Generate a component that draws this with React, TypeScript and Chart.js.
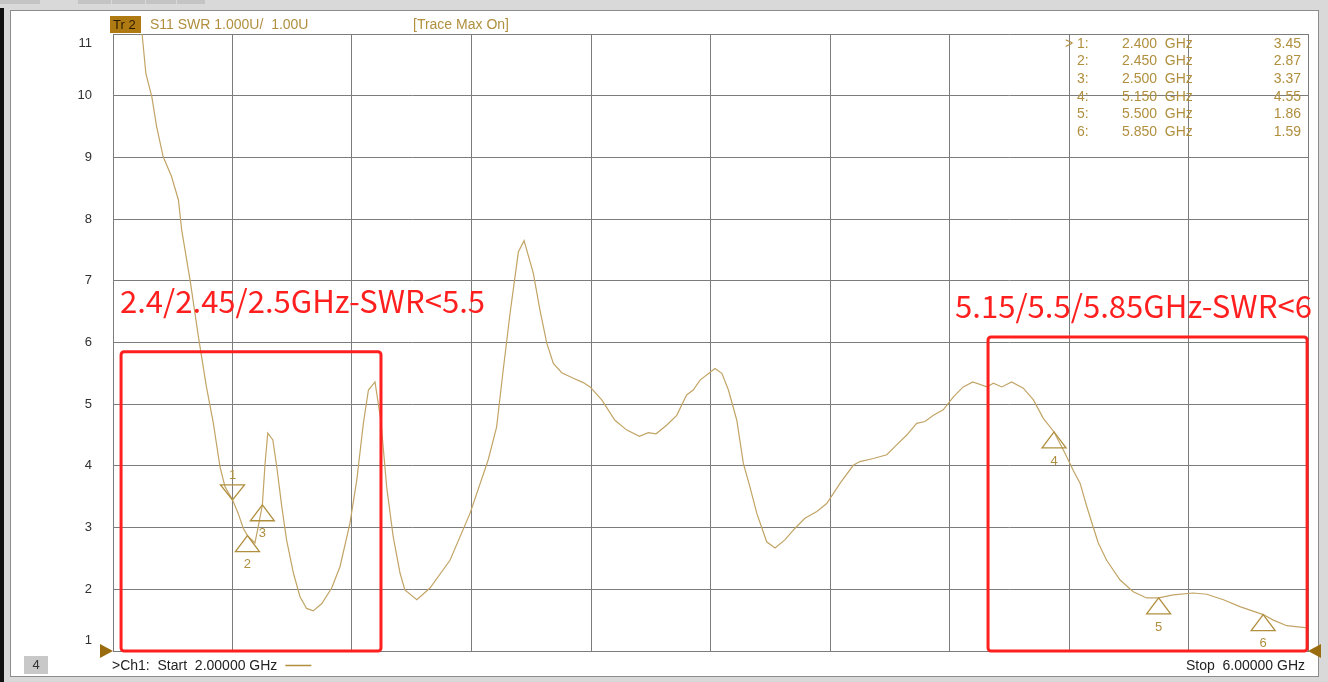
import React, { useEffect, useRef } from "react";
import { Chart, registerables } from "chart.js";

Chart.register(...registerables);

const W = 1328;
const H = 682;

// Trace data (frequency in GHz, S11 SWR)
const freqGHz = [
  2.0, 2.05, 2.08, 2.096, 2.11, 2.13, 2.146, 2.168, 2.196, 2.219, 2.23, 2.258, 2.286, 2.312, 2.336, 2.358,
  2.375, 2.4, 2.419, 2.436, 2.45, 2.475, 2.486, 2.5, 2.509, 2.518, 2.535, 2.548, 2.565, 2.581, 2.604, 2.626,
  2.648, 2.67, 2.699, 2.732, 2.76, 2.793, 2.816, 2.838, 2.855, 2.877, 2.897, 2.916, 2.938, 2.961, 2.977,
  3.017, 3.061, 3.128, 3.195, 3.256, 3.284, 3.306, 3.329, 3.357, 3.376, 3.407, 3.429, 3.452, 3.474, 3.502,
  3.541, 3.574, 3.597, 3.636, 3.68, 3.72, 3.762, 3.792, 3.818, 3.853, 3.887, 3.92, 3.942, 3.965, 4.015,
  4.038, 4.06, 4.088, 4.11, 4.132, 4.155, 4.188, 4.216, 4.249, 4.283, 4.316, 4.356, 4.389, 4.434, 4.478,
  4.5, 4.545, 4.59, 4.623, 4.657, 4.69, 4.718, 4.746, 4.779, 4.813, 4.846, 4.878, 4.925, 4.947, 4.975,
  5.008, 5.047, 5.081, 5.114, 5.15, 5.187, 5.214, 5.237, 5.259, 5.281, 5.298, 5.326, 5.371, 5.415, 5.46,
  5.5, 5.549, 5.616, 5.661, 5.717, 5.772, 5.85, 5.884, 5.929, 5.99, 6.0,
];
const swr = [
  15.0, 12.8, 11.7, 11.07, 10.36, 9.98, 9.5, 9.01, 8.69, 8.31, 7.82, 7.01, 6.09, 5.3, 4.69, 3.99,
  3.66, 3.45, 3.23, 2.99, 2.87, 2.75, 3.01, 3.37, 4.04, 4.53, 4.42, 3.99, 3.34, 2.8, 2.26, 1.88,
  1.69, 1.65, 1.77, 2.02, 2.37, 3.07, 3.77, 4.69, 5.23, 5.36, 4.72, 3.66, 2.85, 2.26, 1.99,
  1.83, 2.02, 2.47, 3.23, 4.1, 4.63, 5.55, 6.47, 7.47, 7.65, 7.12, 6.53, 5.99, 5.66, 5.51,
  5.42, 5.35, 5.28, 5.07, 4.74, 4.58, 4.48, 4.54, 4.52, 4.66, 4.82, 5.15, 5.23, 5.39, 5.58,
  5.5, 5.23, 4.74, 4.04, 3.66, 3.23, 2.77, 2.67, 2.8, 2.99, 3.15, 3.26, 3.39, 3.72, 4.01,
  4.07, 4.12, 4.18, 4.34, 4.5, 4.69, 4.72, 4.82, 4.91, 5.12, 5.28, 5.36, 5.28, 5.34, 5.28,
  5.36, 5.26, 5.07, 4.77, 4.55, 4.2, 3.93, 3.72, 3.35, 3.01, 2.75, 2.47, 2.15, 1.96, 1.86,
  1.86, 1.91, 1.94, 1.92, 1.83, 1.72, 1.59, 1.5, 1.41, 1.38, 1.38,
];

// Markers
const markerIds = ["1", "2", "3", "4", "5", "6"];
const markerFreqs = [2.4, 2.45, 2.5, 5.15, 5.5, 5.85];
const markerFreqLabels = ["2.400", "2.450", "2.500", "5.150", "5.500", "5.850"];
const markerValues = [3.45, 2.87, 3.37, 4.55, 1.86, 1.59];
const activeMarker = 0;

// Y tick labels
const yTickValues = [1, 2, 3, 4, 5, 6, 7, 8, 9, 10, 11];

// Red annotation bands
const bandLabels = ["2.4/2.45/2.5GHz-SWR<5.5", "5.15/5.5/5.85GHz-SWR<6"];
const bandFreqStart = [2.027, 4.929];
const bandFreqEnd = [2.897, 5.997];
const bandTopSwr = [5.85, 6.09];

const headerTrace = "Tr 2";
const headerFormat = "S11 SWR 1.000U/  1.00U";
const headerStatus = "[Trace Max On]";
const footerStart = ">Ch1:  Start  2.00000 GHz";
const footerStop = "Stop  6.00000 GHz";
const footerWindow = "4";

const TRACE = "#c2a465";
const GOLD = "#b08f3e";
const GRID = "#7c7c7c";
const RED = "#ff1f1f";
const FONT = '"Liberation Sans", Arial, sans-serif';

const vnaPlugin = {
  id: "vnaDecor",
  beforeDraw(chart: any) {
    const ctx = chart.ctx as CanvasRenderingContext2D;
    ctx.save();
    ctx.fillStyle = "#d9d9d9";
    ctx.fillRect(0, 0, W, H);
    // top tabs
    ctx.fillStyle = "#c4c4c4";
    ctx.fillRect(0, 0, 40, 4);
    ctx.fillRect(78, 0, 33, 4);
    ctx.fillRect(112, 0, 33, 4);
    ctx.fillRect(146, 0, 30, 4);
    ctx.fillRect(177, 0, 28, 4);
    // black left strip
    ctx.fillStyle = "#111111";
    ctx.fillRect(0, 8, 4, H - 8);
    // white panel
    ctx.fillStyle = "#ffffff";
    ctx.fillRect(10, 10, 1309, 667);
    ctx.strokeStyle = "#8c8c8c";
    ctx.lineWidth = 1;
    ctx.strokeRect(10.5, 10.5, 1308, 666);
    ctx.restore();
  },
  afterDatasetsDraw(chart: any) {
    const ctx = chart.ctx as CanvasRenderingContext2D;
    const xs = chart.scales.x;
    const ys = chart.scales.y;
    const area = chart.chartArea;
    ctx.save();

    // Y tick labels
    ctx.font = `13px ${FONT}`;
    ctx.fillStyle = "#303030";
    ctx.textAlign = "right";
    ctx.textBaseline = "middle";
    yTickValues.forEach((v) => {
      let py = ys.getPixelForValue(v);
      py = Math.max(area.top + 9, Math.min(area.bottom - 11, py));
      ctx.fillText(String(v), 92, py);
    });

    // reference triangles
    ctx.fillStyle = "#9a6c10";
    const yRef = ys.getPixelForValue(1);
    ctx.beginPath();
    ctx.moveTo(area.left - 13, yRef - 7);
    ctx.lineTo(area.left, yRef);
    ctx.lineTo(area.left - 13, yRef + 7);
    ctx.closePath();
    ctx.fill();
    ctx.beginPath();
    ctx.moveTo(area.right + 13, yRef - 7);
    ctx.lineTo(area.right, yRef);
    ctx.lineTo(area.right + 13, yRef + 7);
    ctx.closePath();
    ctx.fill();

    // Markers
    ctx.strokeStyle = GOLD;
    ctx.lineWidth = 1.3;
    ctx.fillStyle = GOLD;
    ctx.font = `13px ${FONT}`;
    ctx.textAlign = "center";
    ctx.textBaseline = "middle";
    markerFreqs.forEach((f, i) => {
      const px = xs.getPixelForValue(f);
      const py = ys.getPixelForValue(markerValues[i]);
      ctx.beginPath();
      if (i === activeMarker) {
        ctx.moveTo(px - 12, py - 15);
        ctx.lineTo(px + 12, py - 15);
        ctx.lineTo(px, py);
        ctx.closePath();
        ctx.stroke();
        ctx.fillText(markerIds[i], px, py - 24);
      } else {
        ctx.moveTo(px, py);
        ctx.lineTo(px - 12, py + 16);
        ctx.lineTo(px + 12, py + 16);
        ctx.closePath();
        ctx.stroke();
        ctx.fillText(markerIds[i], px, py + 29);
      }
    });

    // Marker table
    ctx.font = `14px ${FONT}`;
    ctx.fillStyle = GOLD;
    ctx.textBaseline = "middle";
    markerIds.forEach((id, i) => {
      const ty = 44 + i * 17.6;
      ctx.textAlign = "left";
      if (i === activeMarker) ctx.fillText(">", 1065, ty);
      ctx.fillText(id + ":", 1077, ty);
      ctx.fillText(markerFreqLabels[i] + "  GHz", 1122, ty);
      ctx.textAlign = "right";
      ctx.fillText(markerValues[i].toFixed(2), 1301, ty);
    });

    // Red bands
    ctx.strokeStyle = RED;
    ctx.lineWidth = 3;
    bandLabels.forEach((label, i) => {
      const x1 = xs.getPixelForValue(bandFreqStart[i]);
      const x2 = xs.getPixelForValue(bandFreqEnd[i]);
      const y1 = ys.getPixelForValue(bandTopSwr[i]);
      const y2 = ys.getPixelForValue(1);
      ctx.beginPath();
      (ctx as any).roundRect(x1, y1, x2 - x1, y2 - y1, 3);
      ctx.stroke();
    });
    ctx.fillStyle = RED;
    ctx.textAlign = "left";
    ctx.textBaseline = "alphabetic";
    const fitText = (text: string, x: number, baseline: number, width: number) => {
      ctx.font = `30px "Noto Sans CJK SC", "Noto Sans", sans-serif`;
      const m = ctx.measureText(text).width;
      const size = (30 * width) / m;
      ctx.font = `${size.toFixed(2)}px "Noto Sans CJK SC", "Noto Sans", sans-serif`;
      ctx.fillText(text, x, baseline);
    };
    fitText(bandLabels[0], 120, 313, 365);
    fitText(bandLabels[1], 955, 318, 357);

    // Header
    ctx.fillStyle = "#b07a12";
    ctx.fillRect(110, 16, 31, 17);
    ctx.font = `13px ${FONT}`;
    ctx.textBaseline = "middle";
    ctx.textAlign = "left";
    ctx.fillStyle = "#2a1c00";
    ctx.fillText(headerTrace, 113, 25);
    ctx.font = `14px ${FONT}`;
    ctx.fillStyle = GOLD;
    ctx.fillText(headerFormat, 150, 25);
    ctx.fillText(headerStatus, 413, 25);

    // Footer
    ctx.fillStyle = "#c8c8c8";
    ctx.fillRect(24, 656, 24, 18);
    ctx.fillStyle = "#333";
    ctx.textAlign = "center";
    ctx.font = `13px ${FONT}`;
    ctx.fillText(footerWindow, 36, 665);
    ctx.textAlign = "left";
    ctx.font = `14px ${FONT}`;
    ctx.fillStyle = "#222";
    ctx.fillText(footerStart, 112, 666);
    const sw = ctx.measureText(footerStart).width;
    ctx.strokeStyle = GOLD;
    ctx.lineWidth = 1.5;
    ctx.beginPath();
    ctx.moveTo(112 + sw + 8, 665.5);
    ctx.lineTo(112 + sw + 34, 665.5);
    ctx.stroke();
    ctx.textAlign = "right";
    ctx.fillText(footerStop, 1305, 666);

    ctx.restore();
  },
};

export default function App() {
  const ref = useRef<HTMLCanvasElement | null>(null);
  useEffect(() => {
    document.body.style.margin = "0";
    const canvas = ref.current;
    if (!canvas) return;
    const chart = new Chart(canvas, {
      type: "line",
      data: {
        datasets: [
          {
            data: freqGHz.map((f, i) => ({ x: f, y: swr[i] })),
            borderColor: TRACE,
            borderWidth: 1.2,
            pointRadius: 0,
            tension: 0,
            fill: false,
          },
        ],
      },
      options: {
        responsive: false,
        animation: false,
        devicePixelRatio: 1,
        events: [],
        layout: { padding: { left: 113, right: 20, top: 34, bottom: 31 } },
        plugins: { legend: { display: false }, tooltip: { enabled: false } },
        scales: {
          x: {
            type: "linear",
            min: 2,
            max: 6,
            ticks: { display: false, stepSize: 0.4 },
            grid: { color: GRID, lineWidth: 1, drawTicks: false },
            border: { display: true, color: GRID },
          },
          y: {
            type: "linear",
            min: 1,
            max: 11,
            ticks: { display: false, stepSize: 1 },
            grid: { color: GRID, lineWidth: 1, drawTicks: false },
            border: { display: true, color: GRID },
          },
        },
      },
      plugins: [vnaPlugin],
    });
    return () => chart.destroy();
  }, []);
  return <canvas ref={ref} width={W} height={H} style={{ display: "block" }} />;
}
